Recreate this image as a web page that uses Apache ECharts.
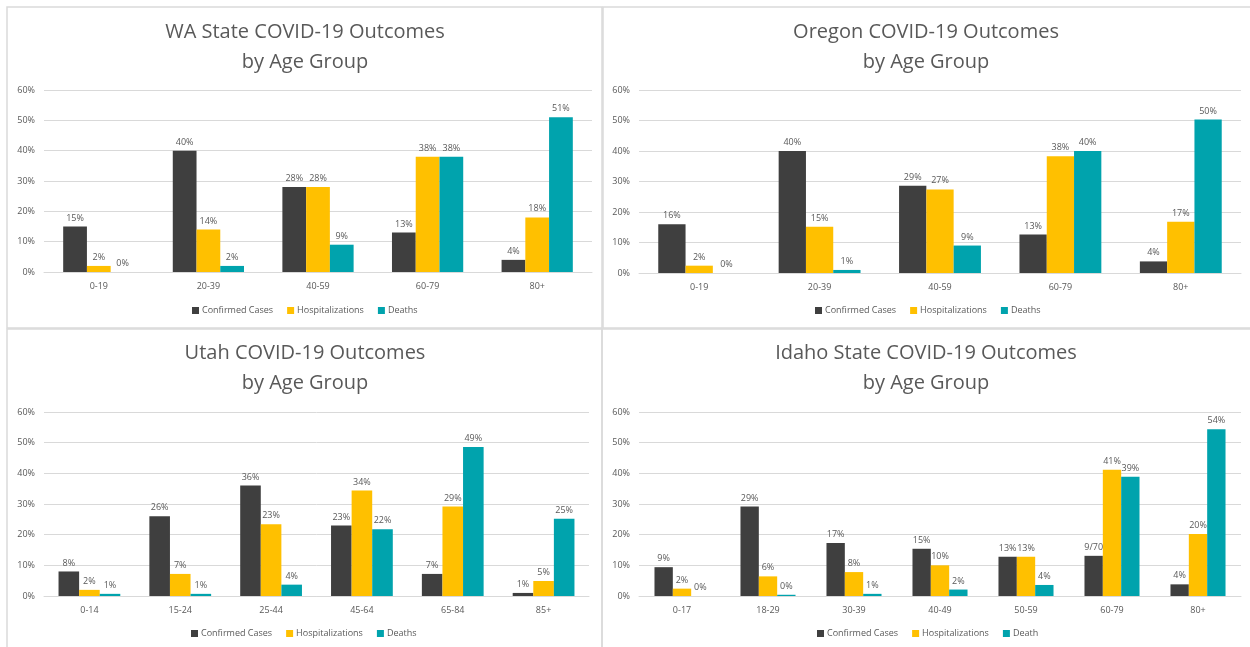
<!DOCTYPE html>
<html lang="en">
<head>
    <meta charset="utf-8">
    <title>COVID-19 Outcomes by Age Group</title>
    <script src="https://cdn.jsdelivr.net/npm/echarts@6/dist/echarts.min.js"></script>
    <style>
        html, body { margin: 0; padding: 0; background: #fff; }
        #main { width: 1250px; height: 647px; }
    </style>
</head>
<body>
<div id="main"></div>
<script type="text/javascript">
    // data (percent)
    var waAges = ['0-19', '20-39', '40-59', '60-79', '80+'];
    var waCases = [15, 40, 28, 13, 4];
    var waHosp = [2, 14, 28, 38, 18];
    var waDeaths = [0, 2, 9, 38, 51];

    var orAges = ['0-19', '20-39', '40-59', '60-79', '80+'];
    var orCases = [16, 40, 28.6, 12.6, 3.8];
    var orHosp = [2.4, 15.2, 27.4, 38.3, 16.8];
    var orDeaths = [0, 1, 9, 40, 50.3];

    var utAges = ['0-14', '15-24', '25-44', '45-64', '65-84', '85+'];
    var utCases = [8, 26, 36, 23, 7.2, 1];
    var utHosp = [2, 7.2, 23.4, 34.4, 29.2, 4.9];
    var utDeaths = [0.7, 0.7, 3.7, 21.8, 48.6, 25.2];

    var idAges = ['0-17', '18-29', '30-39', '40-49', '50-59', '60-79', '80+'];
    var idCases = [9.4, 29.2, 17.3, 15.4, 12.8, 13.1, 3.8];
    var idHosp = [2.4, 6.4, 7.8, 10, 12.8, 41.2, 20.2];
    var idDeaths = [0, 0.4, 0.7, 2.1, 3.6, 38.9, 54.4];
    var idCaseLabels = [null, null, null, null, null, '9/70', null];

    var yTicks = [0, 10, 20, 30, 40, 50, 60];

    var colors = ['#3f3f3f', '#ffc000', '#00a3ad'];
    var txt = '#595959';
    var font = 'Open Sans';

    var myChart = echarts.init(document.getElementById('main'), null, {renderer: 'canvas'});

    // panel layout: title centre x, grid box, title top, legend left/top
    var panels = [
        {name: 'WA State COVID-19 Outcomes', cx: 305, left: 44, right: 658, top: 90, bottom: 375, tTop: 17, lLeft: 192, lTop: 306,
            ages: waAges, s: [waCases, waHosp, waDeaths], names: ['Confirmed Cases', 'Hospitalizations', 'Deaths'], gap: '35%'},
        {name: 'Oregon COVID-19 Outcomes', cx: 926, left: 639, right: 9, top: 90, bottom: 374, tTop: 17, lLeft: 815, lTop: 306,
            ages: orAges, s: [orCases, orHosp, orDeaths], names: ['Confirmed Cases', 'Hospitalizations', 'Deaths'], gap: '32%'},
        {name: 'Utah COVID-19 Outcomes', cx: 305, left: 44, right: 661, top: 412, bottom: 51, tTop: 338, lLeft: 191, lTop: 629,
            ages: utAges, s: [utCases, utHosp, utDeaths], names: ['Confirmed Cases', 'Hospitalizations', 'Deaths'], gap: '32%'},
        {name: 'Idaho State COVID-19 Outcomes', cx: 926, left: 639, right: 9, top: 412, bottom: 51, tTop: 338, lLeft: 817, lTop: 629,
            ages: idAges, s: [idCases, idHosp, idDeaths], names: ['Confirmed Cases', 'Hospitalizations', 'Death'], gap: '36%',
            overrides: [idCaseLabels, null, null]}
    ];

    var title = [], grid = [], xAxis = [], yAxis = [], legend = [], series = [];

    panels.forEach(function (p, i) {
        title.push({
            text: p.name + '\nby Age Group',
            left: p.cx, top: p.tTop, textAlign: 'center', padding: 0,
            textStyle: {fontFamily: font, fontSize: 20, fontWeight: 'normal', color: txt, lineHeight: 30}
        });
        grid.push({left: p.left, right: p.right, top: p.top, bottom: p.bottom, containLabel: false});
        xAxis.push({
            type: 'category', gridIndex: i, data: p.ages,
            axisLine: {lineStyle: {color: '#d9d9d9'}}, axisTick: {show: false},
            axisLabel: {color: txt, fontFamily: font, fontSize: 9, margin: 10}
        });
        yAxis.push({
            type: 'value', gridIndex: i, min: yTicks[0], max: yTicks[yTicks.length - 1], interval: 10,
            axisLine: {show: false}, axisTick: {show: false},
            splitLine: {lineStyle: {color: '#d9d9d9'}},
            axisLabel: {color: txt, fontFamily: font, fontSize: 9, margin: 9, formatter: '{value}%'}
        });
        legend.push({
            data: p.names.map(function (n) { return {name: n}; }),
            left: p.lLeft, top: p.lTop, padding: 0, itemGap: 14, itemWidth: 7, itemHeight: 7,
            icon: 'rect',
            textStyle: {color: txt, fontFamily: font, fontSize: 9, padding: [0, 0, 0, -2]}
        });
        p.s.forEach(function (vals, k) {
            var ov = p.overrides && p.overrides[k];
            series.push({
                name: p.names[k], type: 'bar', xAxisIndex: i, yAxisIndex: i,
                barGap: '0%', barCategoryGap: p.gap,
                itemStyle: {color: colors[k]},
                label: {
                    show: true, position: 'top', distance: 4,
                    color: txt, fontFamily: font, fontSize: 9,
                    formatter: function (d) { return Math.round(d.value) + '%'; }
                },
                data: vals.map(function (v, j) {
                    if (ov && ov[j]) return {value: v, label: {formatter: ov[j]}};
                    return v;
                })
            });
        });
    });

    var option = {
        animation: false,
        backgroundColor: '#fff',
        title: title,
        grid: grid,
        xAxis: xAxis,
        yAxis: yAxis,
        legend: legend,
        series: series,
        graphic: [
            {type: 'rect', shape: {x: 7, y: 7, width: 595, height: 321}, style: {fill: 'none', stroke: '#dadada', lineWidth: 1.5}, silent: true},
            {type: 'rect', shape: {x: 603, y: 7, width: 700, height: 321}, style: {fill: 'none', stroke: '#dadada', lineWidth: 1.5}, silent: true},
            {type: 'rect', shape: {x: 7, y: 329, width: 595, height: 340}, style: {fill: 'none', stroke: '#dadada', lineWidth: 1.5}, silent: true},
            {type: 'rect', shape: {x: 602, y: 329, width: 700, height: 340}, style: {fill: 'none', stroke: '#dadada', lineWidth: 1.5}, silent: true}
        ]
    };
    myChart.setOption(option);
</script>
</body>
</html>
